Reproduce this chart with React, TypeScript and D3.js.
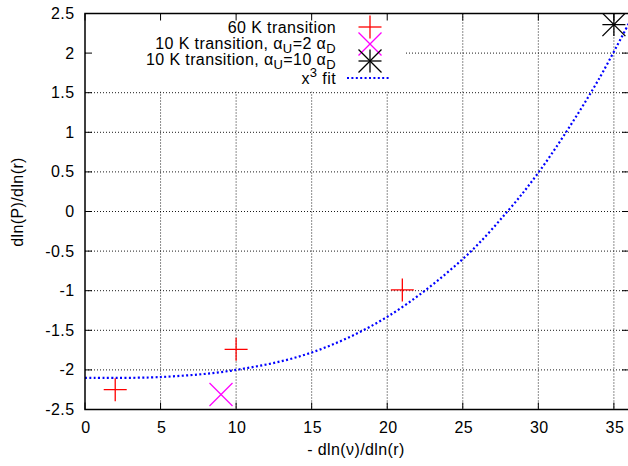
import React, { useEffect, useRef } from "react";
import * as d3 from "d3";

const xTicks = [0, 5, 10, 15, 20, 25, 30, 35];
const xTickLabels = ["0", "5", "10", "15", "20", "25", "30", "35"];
const yTicks = [2.5, 2, 1.5, 1, 0.5, 0, -0.5, -1, -1.5, -2, -2.5];
const yTickLabels = ["2.5", "2", "1.5", "1", "0.5", "0", "-0.5", "-1", "-1.5", "-2", "-2.5"];

// 60 K transition
const t60X = [2, 10, 21];
const t60Y = [-2.25, -1.74, -0.99];
// 10 K transition, aU = 2 aD
const t10aX = [9];
const t10aY = [-2.31];
// 10 K transition, aU = 10 aD
const t10bX = [35];
const t10bY = [2.36];
// x^3 fit
const fitX = [0, 5, 10, 15, 20, 25, 28, 30, 32, 34, 36];
const fitY = [-2.1, -2.09, -2.0, -1.78, -1.33, -0.6, 0.01, 0.49, 1.05, 1.67, 2.38];

const W = 628;
const H = 466;
const FONT = "'Liberation Sans', Arial, Helvetica, sans-serif";

const App = () => {
  const svgRef = useRef<SVGSVGElement>(null);

  useEffect(() => {
    const svg = d3.select(svgRef.current);
    svg.selectAll("*").remove();

    const left = 85, right = 629, top = 13.5, bottom = 409.5;
    const x = d3.scaleLinear().domain([0, 36]).range([left, right]);
    const y = d3.scaleLinear().domain([-2.5, 2.5]).range([bottom, top]);

    svg.append("defs").append("clipPath").attr("id", "plotclip")
      .append("rect").attr("x", left).attr("y", top)
      .attr("width", right - left).attr("height", bottom - top);

    // grid
    const grid = svg.append("g").attr("stroke", "#000").attr("stroke-width", 0.9)
      .attr("stroke-dasharray", "1,2");
    xTicks.slice(1).forEach(v => {
      grid.append("line").attr("x1", x(v)).attr("x2", x(v)).attr("y1", top).attr("y2", bottom);
    });
    yTicks.slice(1, -1).forEach(v => {
      grid.append("line").attr("x1", left).attr("x2", right).attr("y1", y(v)).attr("y2", y(v));
    });

    // key area blanks the grid
    svg.append("rect").attr("x", left + 1).attr("y", top + 1)
      .attr("width", 318).attr("height", 77).attr("fill", "#fff");

    // ticks (inward, mirrored)
    const tk = svg.append("g").attr("stroke", "#000").attr("stroke-width", 1);
    const tl = 7;
    xTicks.forEach(v => {
      tk.append("line").attr("x1", x(v)).attr("x2", x(v)).attr("y1", bottom).attr("y2", bottom - tl);
      tk.append("line").attr("x1", x(v)).attr("x2", x(v)).attr("y1", top).attr("y2", top + tl);
    });
    yTicks.forEach(v => {
      tk.append("line").attr("x1", left).attr("x2", left + tl).attr("y1", y(v)).attr("y2", y(v));
      tk.append("line").attr("x1", right).attr("x2", right - tl).attr("y1", y(v)).attr("y2", y(v));
    });

    // tick labels
    const lab = svg.append("g").attr("font-family", FONT).attr("font-size", 16)
      .attr("letter-spacing", 0.4).attr("fill", "#000");
    xTicks.forEach((v, i) => {
      lab.append("text").attr("x", x(v) + 1).attr("y", 433).attr("text-anchor", "middle")
        .text(xTickLabels[i]);
    });
    yTicks.forEach((v, i) => {
      lab.append("text").attr("x", 74.5).attr("y", y(v) + 5.5).attr("text-anchor", "end")
        .text(yTickLabels[i]);
    });
    lab.append("text").attr("x", 356).attr("y", 455).attr("text-anchor", "middle")
      .text("- dln(\u03bd)/dln(r)");
    lab.append("text").attr("transform", `translate(23,202) rotate(-90)`)
      .attr("text-anchor", "middle").text("dln(P)/dln(r)");

    const plot = svg.append("g").attr("clip-path", "url(#plotclip)");

    // fit curve
    const line = d3.line<number>()
      .x((_, i) => x(fitX[i]))
      .y(d => y(d))
      .curve(d3.curveCatmullRom);
    plot.append("path").datum(fitY).attr("d", line).attr("fill", "none")
      .attr("stroke", "#0000ff").attr("stroke-width", 2.2).attr("stroke-dasharray", "2,2.4");

    const s = 11.5;
    const plus = (g, cx, cy, c) => {
      g.append("line").attr("x1", cx - s).attr("x2", cx + s).attr("y1", cy).attr("y2", cy).attr("stroke", c);
      g.append("line").attr("x1", cx).attr("x2", cx).attr("y1", cy - s).attr("y2", cy + s).attr("stroke", c);
    };
    const cross = (g, cx, cy, c) => {
      g.append("line").attr("x1", cx - s).attr("x2", cx + s).attr("y1", cy - s).attr("y2", cy + s).attr("stroke", c);
      g.append("line").attr("x1", cx - s).attr("x2", cx + s).attr("y1", cy + s).attr("y2", cy - s).attr("stroke", c);
    };
    const star = (g, cx, cy, c) => { plus(g, cx, cy, c); cross(g, cx, cy, c); };

    const pts = plot.append("g").attr("stroke-width", 1.3);
    t60X.forEach((v, i) => plus(pts, x(v), y(t60Y[i]), "#ff0000"));
    t10aX.forEach((v, i) => cross(pts, x(v), y(t10aY[i]), "#ff00ff"));
    t10bX.forEach((v, i) => star(pts, x(v), y(t10bY[i]), "#000000"));

    // legend
    const key = svg.append("g").attr("font-family", FONT).attr("font-size", 16)
      .attr("letter-spacing", 0.4);
    const kx = 336, mx = 370;
    const rows = [27, 44, 61, 78];
    key.append("text").attr("x", kx).attr("y", 33).attr("text-anchor", "end").text("60 K transition");

    const alphaRow = (yy, ratio) => {
      const t = key.append("text").attr("x", kx).attr("y", yy).attr("text-anchor", "end");
      t.append("tspan").text("10 K transition, \u03b1");
      t.append("tspan").attr("dy", 4.5).attr("font-size", 13).text("U");
      t.append("tspan").attr("dy", -4.5).text(`=${ratio} \u03b1`);
      t.append("tspan").attr("dy", 4.5).attr("font-size", 13).text("D");
    };
    alphaRow(48.5, "2");
    alphaRow(64.5, "10");

    const row4 = key.append("text").attr("x", kx).attr("y", 84).attr("text-anchor", "end");
    row4.append("tspan").text("x");
    row4.append("tspan").attr("dy", -7).attr("font-size", 13).text("3");
    row4.append("tspan").attr("dy", 7).text(" fit");

    const km = key.append("g").attr("stroke-width", 1.3);
    plus(km, mx, rows[0], "#ff0000");
    cross(km, mx, rows[1], "#ff00ff");
    star(km, mx, rows[2], "#000000");
    key.append("line").attr("x1", 347).attr("x2", 391).attr("y1", rows[3]).attr("y2", rows[3])
      .attr("stroke", "#0000ff").attr("stroke-width", 2.2).attr("stroke-dasharray", "2,2.4");

    // border
    svg.append("rect").attr("x", left).attr("y", top).attr("width", right - left)
      .attr("height", bottom - top).attr("fill", "none").attr("stroke", "#000").attr("stroke-width", 1.5);
  }, []);

  return (
    <svg ref={svgRef} width={W} height={H}
      style={{ position: "absolute", left: 0, top: 0, background: "#fff" }} />
  );
};

export default App;
